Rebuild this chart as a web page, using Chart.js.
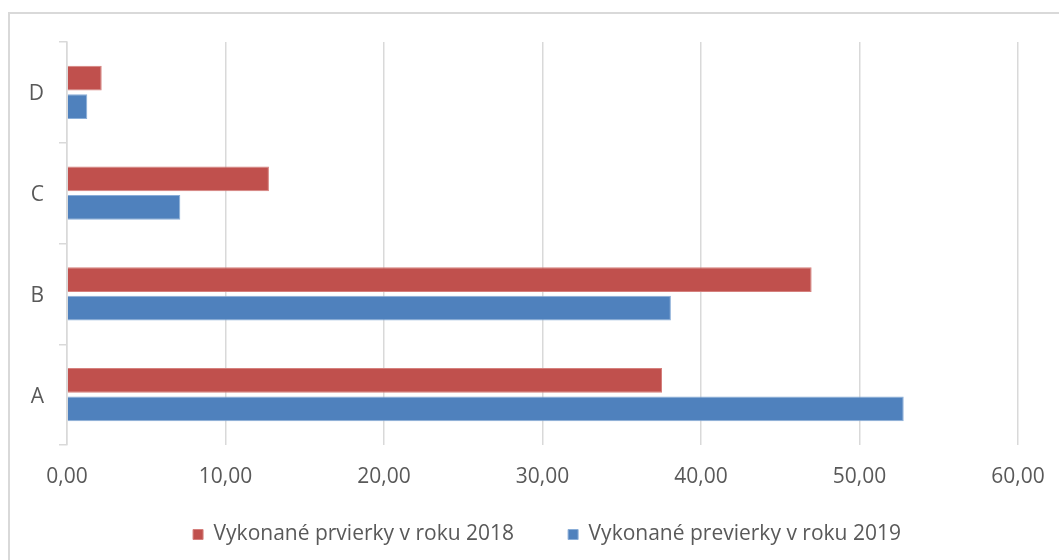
<!DOCTYPE html>
<html>
<head>
<meta charset="utf-8">
<script src="https://cdn.jsdelivr.net/npm/chart.js@4/dist/chart.umd.min.js"></script>
<style>
  html, body { margin: 0; padding: 0; background: #ffffff; }
  #wrap { position: relative; width: 1059px; height: 560px; overflow: hidden; }
  #frame { position: absolute; left: 8px; top: 12px; width: 1200px; height: 700px;
           border-top: 2px solid #d9d9d9; border-left: 2px solid #d9d9d9; pointer-events: none; }
  canvas { position: absolute; left: 0; top: 0; }
</style>
</head>
<body>
<div id="wrap">
  <canvas id="c" width="1059" height="560"></canvas>
  <div id="frame"></div>
</div>
<script>
const categories = ['D', 'C', 'B', 'A'];
const values2018 = [2.19, 12.74, 46.98, 37.54];
const values2019 = [1.28, 7.15, 38.10, 52.79];
const seriesNames = ['Vykonané prvierky v roku 2018', 'Vykonané previerky v roku 2019'];
const xTicks = [0, 10, 20, 30, 40, 50, 60];

const FONT = "'Open Sans', 'DejaVu Sans', sans-serif";
const GRID = '#d9d9d9';
const TEXT = '#595959';

// move the legend (which keeps wide item spacing) into its place under the axis labels
const legendShift = {
  id: 'legendShift',
  afterLayout(chart) {
    const lg = chart.legend;
    if (lg) { lg.left += 38; lg.right += 38; lg.top -= 20; }
  }
};

new Chart(document.getElementById('c'), {
  type: 'bar',
  data: {
    labels: categories,
    datasets: [
      { label: seriesNames[0], data: values2018, backgroundColor: '#C0504D', borderColor: '#d5807d', borderWidth: 1,
        categoryPercentage: 0.566, barPercentage: 0.86 },
      { label: seriesNames[1], data: values2019, backgroundColor: '#4F81BD', borderColor: '#8aaed8', borderWidth: 1,
        categoryPercentage: 0.566, barPercentage: 0.86 }
    ]
  },
  options: {
    indexAxis: 'y',
    responsive: false,
    animation: false,
    layout: { padding: { top: 42, right: 41, bottom: 0, left: 0 } },
    scales: {
      x: {
        min: 0, max: 60,
        afterBuildTicks(scale) { scale.ticks = xTicks.map(v => ({ value: v })); },
        afterFit(scale) { scale.height = 45; scale.paddingRight = 0; scale.paddingLeft = 0; },
        grid: { color: GRID, lineWidth: 1.5, drawTicks: false },
        border: { display: false },
        ticks: {
          padding: 19, color: TEXT, font: { family: FONT, size: 21 }, maxRotation: 0,
          callback: v => v.toFixed(2).replace('.', ',')
        }
      },
      y: {
        afterFit(scale) { scale.width = 67; },
        grid: { drawOnChartArea: false, drawTicks: true, tickLength: 8, color: GRID, lineWidth: 1.5, offset: true },
        border: { display: true, color: GRID, width: 1.5 },
        ticks: { padding: 15, labelOffset: 2, color: TEXT, font: { family: FONT, size: 21 } }
      }
    },
    plugins: {
      legend: {
        position: 'bottom',
        maxHeight: 70,
        labels: { boxWidth: 10, boxHeight: 10, padding: 54, color: TEXT, font: { family: FONT, size: 21 } }
      },
      tooltip: { enabled: false }
    }
  },
  plugins: [legendShift]
});
</script>
</body>
</html>
